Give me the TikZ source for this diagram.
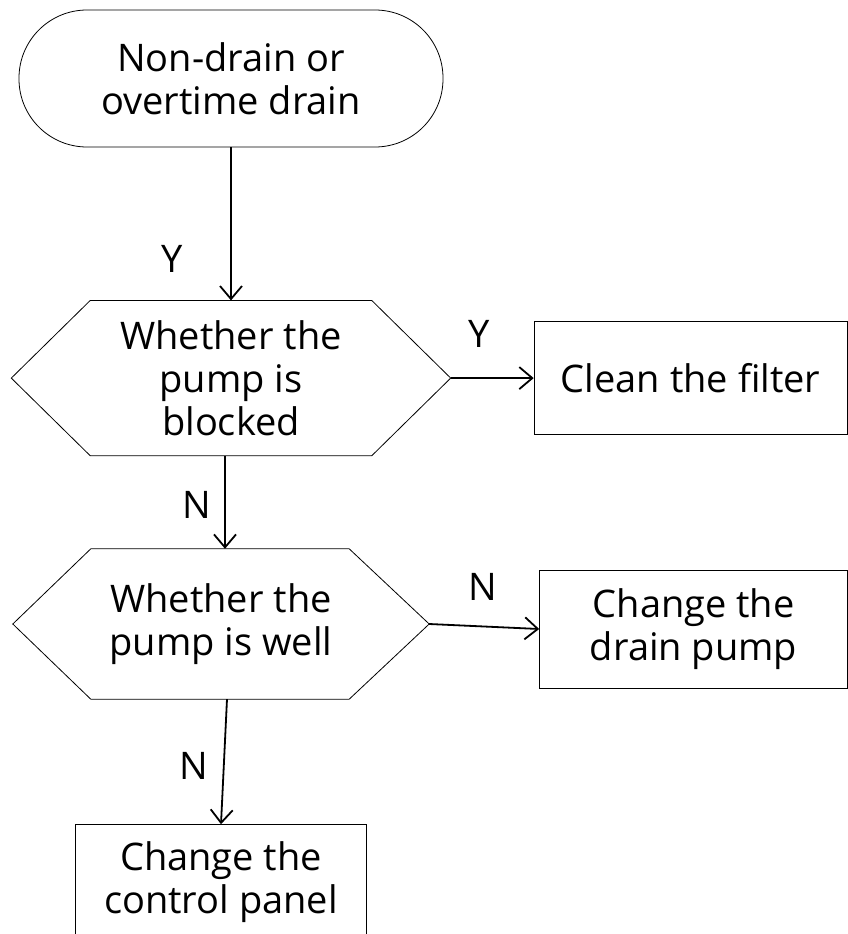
\documentclass[tikz,border=0pt]{standalone}
\usepackage{fontspec}
\setmainfont{Open Sans}
\usepackage{tikz}
\usetikzlibrary{arrows.meta, positioning}

\begin{document}
\begin{tikzpicture}[
    font=\fontsize{38}{43}\selectfont,
    startstop/.style={rectangle, rounded corners=68pt, minimum width=424pt, minimum height=137pt, align=center, draw=black, line width=0.8pt, inner sep=0pt},
    process/.style={rectangle, minimum height=115pt, align=center, draw=black, line width=0.8pt, inner sep=0pt},
    decision/.style={rectangle, align=center, draw=none, inner sep=0pt},
    outline/.style={draw=black, line width=0.8pt, line join=miter},
    line/.style={draw=black, line width=1.8pt, -{Straight Barb[length=13pt, width=22pt]}},
    lbl/.style={inner sep=0pt}
]
    \useasboundingbox (-231pt,78.5pt) rectangle (616pt,-855.5pt);

    \node[startstop] (start) at (0,0) {Non-drain or\\overtime drain};
    \node[decision, minimum width=439pt, minimum height=155pt, below=153pt of start] (blocked) {Whether the\\pump is\\blocked};
    \node[process, minimum width=313pt, minimum height=113pt, right=83pt of blocked] (filter) {Clean the filter};
    \node[decision, minimum width=416pt, minimum height=150pt, below=93pt of blocked, xshift=-10pt] (well) {Whether the\\pump is well};
    \node[process, minimum width=308pt, minimum height=118pt, right=110pt of well, yshift=-5pt] (pump) {Change the\\drain pump};
    \node[process, minimum width=291pt, minimum height=116pt, below=125pt of well] (panel) {Change the\\control panel};

    % Hexagons
    \draw[outline] (blocked.west) -- ([xshift=79pt]blocked.north west) -- ([xshift=-79pt]blocked.north east) -- (blocked.east) -- ([xshift=-79pt]blocked.south east) -- ([xshift=79pt]blocked.south west) -- cycle;
    \draw[outline] (well.west) -- ([xshift=78pt]well.north west) -- ([xshift=-80pt]well.north east) -- (well.east) -- ([xshift=-80pt]well.south east) -- ([xshift=78pt]well.south west) -- cycle;

    % Connectors
    \draw[line] (start.south) -- node[lbl, pos=0.73, xshift=-59pt] (lbl_y1) {Y} (start.south |- blocked.north);
    \draw[line] (blocked.east) -- node[lbl, pos=0.34, yshift=44pt] (lbl_y2) {Y} (filter.west);
    \draw[line] ([xshift=-6pt]blocked.south) -- node[lbl, pos=0.53, xshift=-28pt] (lbl_n1) {N} ([xshift=-6pt]blocked.south |- well.north);
    \draw[line] (well.east) -- node[lbl, pos=0.49, yshift=40pt] (lbl_n2) {N} (pump.west);
    \draw[line] ([xshift=6pt]well.south) -- node[lbl, pos=0.53, xshift=-30pt] (lbl_n3) {N} (panel.north);
\end{tikzpicture}
\end{document}
